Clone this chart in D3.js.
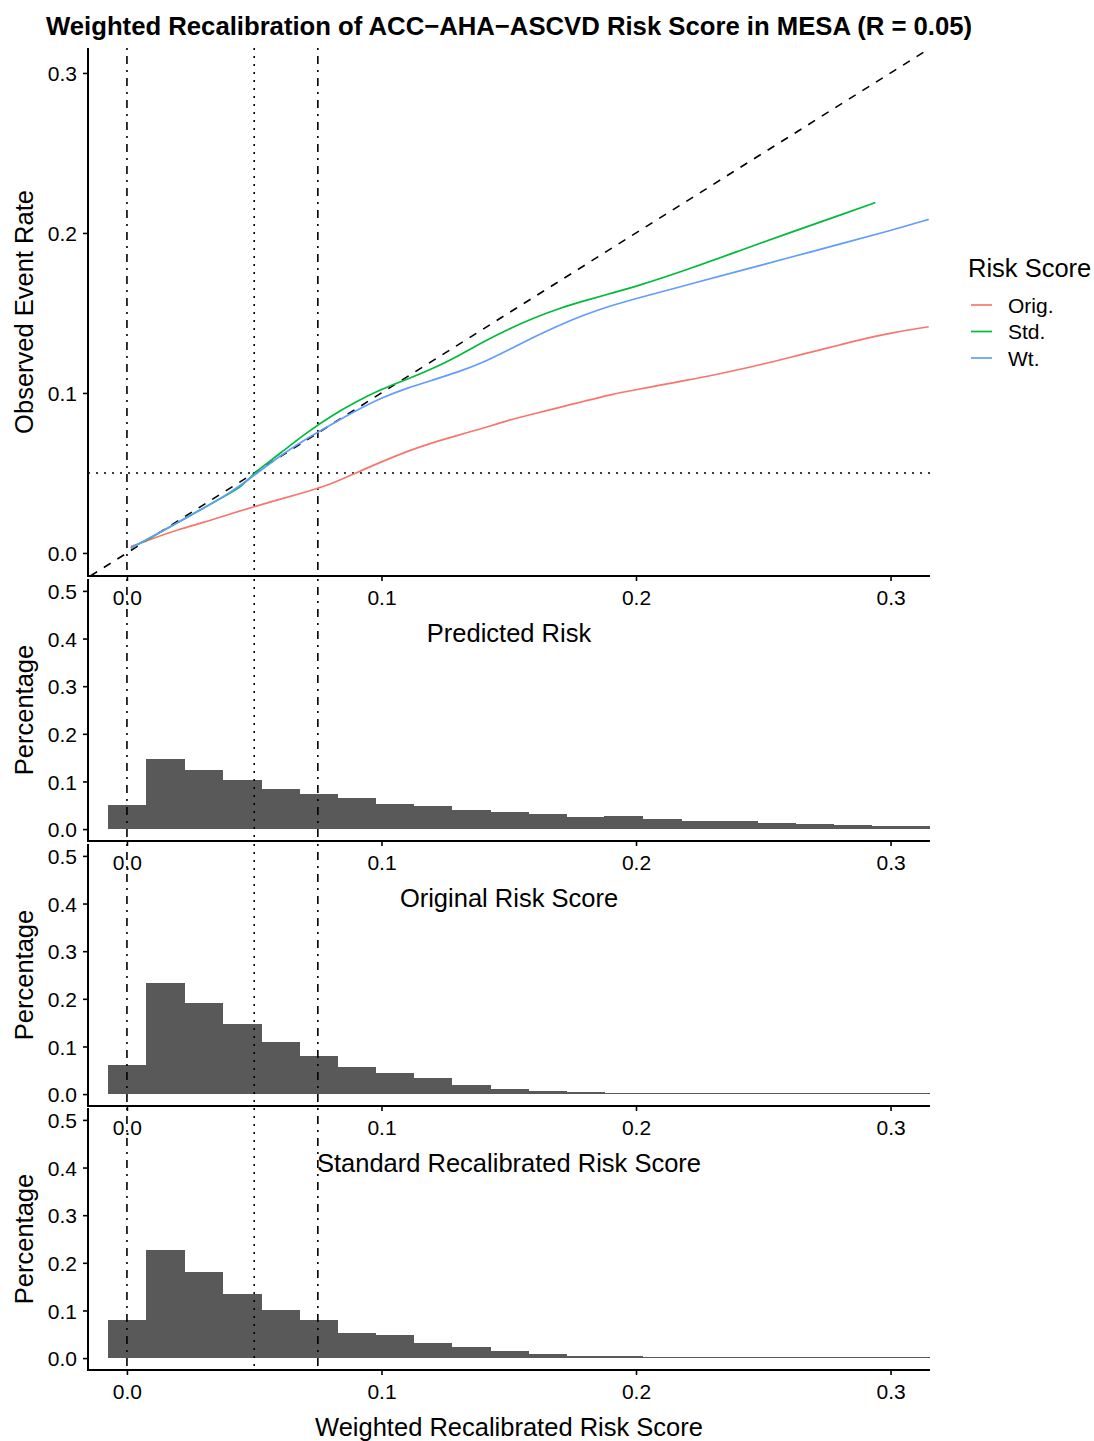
<!DOCTYPE html>
<html>
<head>
<meta charset="utf-8">
<script src="https://cdn.jsdelivr.net/npm/d3@7"></script>
<style>
  html, body { margin: 0; padding: 0; background: #fff; }
  svg text { font-family: "Liberation Sans", Arial, Helvetica, sans-serif; }
</style>
</head>
<body>
<svg id="chart" width="1094" height="1441"></svg>
<script>
// ---- calibration curves (predicted risk vs observed event rate) ----
const origX = [0.0015, 0.01, 0.02, 0.03, 0.04, 0.05, 0.06, 0.07, 0.075, 0.08, 0.09, 0.10, 0.11, 0.12, 0.13, 0.14, 0.15, 0.16, 0.17, 0.18, 0.19, 0.20, 0.21, 0.22, 0.23, 0.24, 0.25, 0.26, 0.27, 0.28, 0.29, 0.30, 0.315];
const origY = [0.004, 0.009, 0.0145, 0.019, 0.024, 0.029, 0.0335, 0.038, 0.0405, 0.043, 0.050, 0.057, 0.0635, 0.069, 0.0735, 0.078, 0.083, 0.087, 0.091, 0.095, 0.099, 0.102, 0.105, 0.108, 0.111, 0.1145, 0.118, 0.122, 0.126, 0.130, 0.134, 0.1375, 0.1414];

const stdX = [0.0015, 0.01, 0.02, 0.03, 0.04, 0.045, 0.05, 0.055, 0.06, 0.07, 0.08, 0.09, 0.10, 0.11, 0.12, 0.13, 0.14, 0.15, 0.16, 0.17, 0.18, 0.19, 0.20, 0.22, 0.24, 0.26, 0.28, 0.294];
const stdY = [0.003, 0.010, 0.019, 0.028, 0.037, 0.0415, 0.050, 0.056, 0.062, 0.0745, 0.0855, 0.0945, 0.1025, 0.1085, 0.115, 0.123, 0.132, 0.140, 0.147, 0.153, 0.1578, 0.1622, 0.1665, 0.177, 0.1885, 0.200, 0.211, 0.219];

const wtX = [0.0015, 0.01, 0.02, 0.03, 0.04, 0.05, 0.06, 0.07, 0.08, 0.09, 0.10, 0.11, 0.12, 0.13, 0.14, 0.15, 0.16, 0.17, 0.18, 0.19, 0.20, 0.22, 0.24, 0.26, 0.28, 0.30, 0.315];
const wtY = [0.003, 0.0105, 0.019, 0.028, 0.037, 0.0485, 0.0605, 0.071, 0.080, 0.089, 0.097, 0.103, 0.108, 0.113, 0.119, 0.127, 0.135, 0.1425, 0.149, 0.1545, 0.159, 0.1675, 0.176, 0.1845, 0.193, 0.2015, 0.2085];

const seriesNames = ["Orig.", "Std.", "Wt."];
const seriesColors = ["#F8766D", "#00BA38", "#619CFF"];

// ---- histograms: bin centres (bin width 0.015) and share of subjects ----
const binCenters = [0, 0.015, 0.03, 0.045, 0.06, 0.075, 0.09, 0.105, 0.12, 0.135, 0.15, 0.165, 0.18, 0.195, 0.21, 0.225, 0.24, 0.255, 0.27, 0.285, 0.30, 0.315];
const binWidth = 0.015;
const origPct = [0.050, 0.148, 0.124, 0.104, 0.084, 0.073, 0.065, 0.052, 0.049, 0.040, 0.035, 0.031, 0.025, 0.027, 0.021, 0.018, 0.016, 0.012, 0.010, 0.008, 0.006, 0.006];
const stdPct  = [0.061, 0.233, 0.191, 0.147, 0.110, 0.080, 0.057, 0.044, 0.034, 0.019, 0.0105, 0.0055, 0.0035, 0.002, 0.002, 0.002, 0.002, 0.002, 0.002, 0.002, 0.002, 0.002];
const wtPct   = [0.080, 0.227, 0.181, 0.134, 0.101, 0.079, 0.053, 0.048, 0.032, 0.024, 0.015, 0.008, 0.004, 0.004, 0.002, 0.002, 0.002, 0.002, 0.002, 0.002, 0.002, 0.002];

// ---- axis ticks and labels ----
const xTicks = [0.0, 0.1, 0.2, 0.3];
const calYTicks = [0.0, 0.1, 0.2, 0.3];
const histYTicks = [0.0, 0.1, 0.2, 0.3, 0.4, 0.5];
const titleText = "Weighted Recalibration of ACC\u2212AHA\u2212ASCVD Risk Score in MESA (R = 0.05)";
const calXTitle = "Predicted Risk";
const calYTitle = "Observed Event Rate";
const histTitles = ["Original Risk Score", "Standard Recalibrated Risk Score", "Weighted Recalibrated Risk Score"];
const histYTitle = "Percentage";
const legendTitle = "Risk Score";
const refThreshold = 0.05;
const refLow = 0.0, refHigh = 0.075;

// ---- layout ----
const svg = d3.select("#chart");
const L = 88, R = 930;
const tickFont = 21, titleFont = 25.5;
const textCol = "#000";

const x = d3.scaleLinear().domain([-0.0153, 0.3155]).range([L, R]);

const defs = svg.append("defs");
let clipId = 0;
function clipRect(top, bottom) {
  const id = "clip" + (clipId++);
  defs.append("clipPath").attr("id", id)
    .append("rect").attr("x", L).attr("y", top).attr("width", R - L).attr("height", bottom - top);
  return "url(#" + id + ")";
}

function refLines(g, top, bottom) {
  const lines = [
    { v: refLow, dash: "2,6,8,6" },
    { v: refThreshold, dash: "2,6" },
    { v: refHigh, dash: "2,6,8,6" }
  ];
  g.selectAll(null).data(lines).enter().append("line")
    .attr("x1", d => x(d.v)).attr("x2", d => x(d.v))
    .attr("y1", top).attr("y2", bottom)
    .attr("stroke", "#000").attr("stroke-width", 1.6)
    .attr("stroke-dasharray", d => d.dash);
}

function drawAxes(top, bottom, y, yTicks, xTitle, yTitle) {
  const ax = svg.append("g");
  // x axis
  const xa = ax.append("g").attr("transform", `translate(0,${bottom})`)
    .call(d3.axisBottom(x).tickValues(xTicks).tickFormat(d3.format(".1f")).tickSize(5).tickPadding(8));
  xa.select(".domain").remove();
  xa.selectAll(".tick line").attr("stroke", "#000").attr("stroke-width", 1.6);
  xa.selectAll(".tick text").attr("font-size", tickFont).attr("fill", textCol)
    .attr("font-family", "Liberation Sans, Arial, sans-serif").attr("dy", null).attr("y", 29);
  ax.append("line").attr("x1", L - 1).attr("x2", R).attr("y1", bottom).attr("y2", bottom)
    .attr("stroke", "#000").attr("stroke-width", 2);
  // y axis
  const ya = ax.append("g").attr("transform", `translate(${L},0)`)
    .call(d3.axisLeft(y).tickValues(yTicks).tickFormat(d3.format(".1f")).tickSize(5).tickPadding(6));
  ya.select(".domain").remove();
  ya.selectAll(".tick line").attr("stroke", "#000").attr("stroke-width", 1.6);
  ya.selectAll(".tick text").attr("font-size", tickFont).attr("fill", textCol)
    .attr("font-family", "Liberation Sans, Arial, sans-serif").attr("dy", "0.36em").attr("x", -11);
  ax.append("line").attr("x1", L).attr("x2", L).attr("y1", top).attr("y2", bottom + 1)
    .attr("stroke", "#000").attr("stroke-width", 2);
  // titles
  ax.append("text").attr("x", (L + R) / 2).attr("y", bottom + 66)
    .attr("text-anchor", "middle").attr("font-size", titleFont).attr("fill", textCol).text(xTitle);
  ax.append("text").attr("transform", `translate(33,${(top + bottom) / 2}) rotate(-90)`)
    .attr("text-anchor", "middle").attr("font-size", titleFont).attr("fill", textCol).text(yTitle);
}

// ---- title ----
svg.append("text").attr("x", 46).attr("y", 35)
  .attr("font-size", 25.7).attr("font-weight", "bold").attr("fill", "#000").text(titleText);

// ---- calibration panel ----
const calTop = 48, calBottom = 576;
const yCal = d3.scaleLinear().domain([-0.0144, 0.3156]).range([calBottom, calTop]);
drawAxes(calTop, calBottom, yCal, calYTicks, calXTitle, calYTitle);
const cal = svg.append("g").attr("clip-path", clipRect(calTop, calBottom));
refLines(cal, calTop, calBottom);
cal.append("line")
  .attr("x1", x(yCal.domain()[0])).attr("y1", yCal(yCal.domain()[0]))
  .attr("x2", x(0.34)).attr("y2", yCal(0.34))
  .attr("stroke", "#000").attr("stroke-width", 1.6).attr("stroke-dasharray", "8,8");
cal.append("line")
  .attr("x1", L).attr("x2", R).attr("y1", yCal(refThreshold)).attr("y2", yCal(refThreshold))
  .attr("stroke", "#000").attr("stroke-width", 1.6).attr("stroke-dasharray", "2,6");

const curveLine = d3.line().x(d => x(d[0])).y(d => yCal(d[1])).curve(d3.curveBasis);
const curves = [
  d3.zip(origX, origY),
  d3.zip(stdX, stdY),
  d3.zip(wtX, wtY)
];
cal.selectAll(null).data(curves).enter().append("path")
  .attr("d", curveLine)
  .attr("fill", "none")
  .attr("stroke", (d, i) => seriesColors[i])
  .attr("stroke-width", 1.7);

// ---- legend ----
const leg = svg.append("g");
leg.append("text").attr("x", 968).attr("y", 277).attr("font-size", titleFont).attr("fill", textCol).text(legendTitle);
const legY = [305, 331.5, 358];
leg.selectAll(null).data(seriesNames).enter().append("line")
  .attr("x1", 971).attr("x2", 992)
  .attr("y1", (d, i) => legY[i]).attr("y2", (d, i) => legY[i])
  .attr("stroke", (d, i) => seriesColors[i]).attr("stroke-width", 1.7);
leg.selectAll(null).data(seriesNames).enter().append("text")
  .attr("x", 1008).attr("y", (d, i) => legY[i] + 7.5)
  .attr("font-size", tickFont).attr("fill", textCol).text(d => d);

// ---- histogram panels ----
const histBottoms = [841, 1106, 1370];
const histData = [origPct, stdPct, wtPct];
histBottoms.forEach((bottom, k) => {
  const top = bottom - 262;
  const y = d3.scaleLinear().domain([-0.025, 0.525]).range([bottom, top]);
  const g = svg.append("g").attr("clip-path", clipRect(top, bottom));
  const bins = binCenters.map((c, i) => ({ c, v: histData[k][i] }));
  g.selectAll(null).data(bins).enter().append("rect")
    .attr("x", d => x(d.c - binWidth / 2))
    .attr("width", d => x(d.c + binWidth / 2) - x(d.c - binWidth / 2) + 1)
    .attr("y", d => y(d.v))
    .attr("height", d => y(0) - y(d.v))
    .attr("fill", "#595959")
    .attr("shape-rendering", "crispEdges");
  refLines(g, top, bottom);
  drawAxes(top, bottom, y, histYTicks, histTitles[k], histYTitle);
});
</script>
</body>
</html>
